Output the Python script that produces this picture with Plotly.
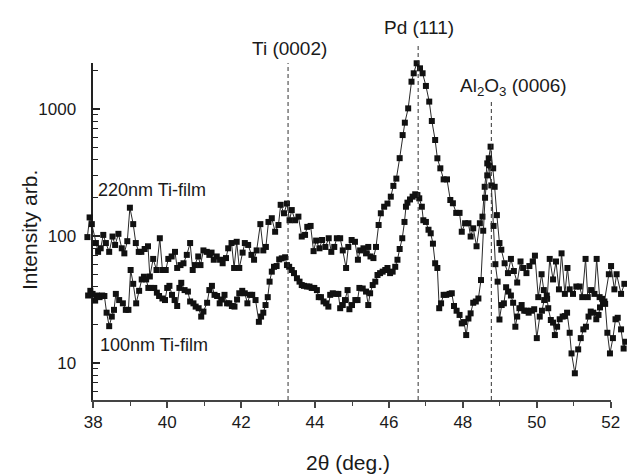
import plotly.graph_objects as go

# ---- data ----
x_220 = [37.84, 37.90, 37.96, 38.07, 38.13, 38.20, 38.27, 38.34, 38.43, 38.52,
         38.59, 38.68, 38.77, 38.84, 38.92, 38.99, 39.08, 39.15, 39.23, 39.30,
         39.39, 39.48, 39.53, 39.62, 39.71, 39.80, 39.87, 39.96, 40.03, 40.12,
         40.21, 40.27, 40.36, 40.44, 40.53, 40.62, 40.69, 40.75, 40.84, 40.90,
         40.98, 41.07, 41.14, 41.20, 41.26, 41.34, 41.43, 41.50, 41.59, 41.65,
         41.74, 41.81, 41.88, 41.95, 42.04, 42.10, 42.19, 42.28, 42.35, 42.42,
         42.52, 42.60, 42.67, 42.74, 42.83, 42.92, 43.01, 43.07, 43.16, 43.24,
         43.31, 43.37, 43.46, 43.55, 43.64, 43.73, 43.79, 43.88, 43.96, 44.03,
         44.12, 44.19, 44.28, 44.37, 44.44, 44.52, 44.59, 44.68, 44.75, 44.84,
         44.90, 44.99, 45.08, 45.16, 45.22, 45.31, 45.38, 45.44, 45.50, 45.58,
         45.65, 45.72, 45.78, 45.87, 45.96, 46.05, 46.12, 46.20, 46.29, 46.37,
         46.43, 46.52, 46.61, 46.67, 46.75, 46.84, 46.91, 47.00, 47.09, 47.16,
         47.25, 47.31, 47.39, 47.48, 47.57, 47.66, 47.73, 47.82, 47.91, 47.97,
         48.06, 48.15, 48.21, 48.28, 48.37, 48.46, 48.53, 48.59, 48.66, 48.70,
         48.75, 48.82, 48.86, 48.92, 48.99, 49.04, 49.13, 49.22, 49.30, 49.38,
         49.47, 49.56, 49.63, 49.72, 49.80, 49.89, 49.95, 50.04, 50.13, 50.19,
         50.28, 50.35, 50.44, 50.52, 50.60, 50.67, 50.76, 50.83, 50.89, 50.98,
         51.07, 51.16, 51.23, 51.32, 51.38, 51.47, 51.56, 51.62, 51.70, 51.77,
         51.83, 51.95, 52.01, 52.10, 52.16, 52.28, 52.37]
y_220 = [98, 140, 124, 88, 75, 80, 102, 88, 75, 99,
         85, 104, 80, 73, 91, 167, 124, 88, 75, 75,
         79, 83, 48, 66, 54, 96, 54, 54, 66, 69,
         75, 56, 59, 61, 71, 88, 54, 59, 69, 59,
         77, 75, 71, 74, 65, 69, 65, 61, 67, 80,
         88, 56, 90, 56, 74, 88, 85, 71, 65, 77,
         124, 77, 82, 129, 138, 108, 122, 176, 151, 180,
         133, 160, 133, 142, 99, 102, 118, 120, 76, 92,
         80, 93, 82, 96, 75, 82, 96, 96, 77, 56,
         82, 93, 90, 65, 77, 80, 73, 82, 69, 67,
         82, 122, 151, 170, 180, 204, 248, 283, 410, 623,
         780, 1011, 1640, 1910, 2290, 2090, 1910, 1518, 1143, 804,
         570, 409, 341, 279, 279, 192, 181, 152, 152, 108,
         126, 126, 99, 115, 83, 126, 142, 244, 373, 409,
         505, 341, 244, 146, 88, 78, 61, 51, 66, 53,
         43, 63, 56, 51, 58, 63, 70, 33, 50, 37.5,
         32, 66, 45.5, 63, 38, 73, 35, 56, 38, 35,
         40, 40, 33, 66, 33, 37.5, 35, 66, 33, 32,
         30.5, 50, 58, 38, 50, 35, 42]

x_100 = [37.86, 37.92, 37.98, 38.05, 38.10, 38.17, 38.24, 38.30, 38.36, 38.43,
         38.50, 38.56, 38.61, 38.70, 38.80, 38.88, 38.95, 39.01, 39.08, 39.16,
         39.24, 39.31, 39.37, 39.43, 39.49, 39.57, 39.65, 39.72, 39.78, 39.87,
         39.94, 40.00, 40.06, 40.13, 40.20, 40.27, 40.33, 40.38, 40.47, 40.56,
         40.62, 40.71, 40.77, 40.85, 40.92, 40.98, 41.08, 41.14, 41.21, 41.28,
         41.35, 41.42, 41.48, 41.55, 41.62, 41.68, 41.75, 41.82, 41.89, 41.95,
         42.03, 42.10, 42.17, 42.24, 42.30, 42.39, 42.48, 42.54, 42.60, 42.66,
         42.72, 42.77, 42.83, 42.89, 42.96, 43.03, 43.10, 43.19, 43.24, 43.30,
         43.37, 43.43, 43.51, 43.58, 43.64, 43.70, 43.78, 43.85, 43.91, 43.98,
         44.05, 44.10, 44.16, 44.23, 44.30, 44.36, 44.41, 44.48, 44.57, 44.63,
         44.68, 44.75, 44.81, 44.88, 44.93, 45.00, 45.09, 45.15, 45.20, 45.29,
         45.38, 45.44, 45.49, 45.56, 45.63, 45.69, 45.76, 45.83, 45.90, 45.96,
         46.03, 46.10, 46.17, 46.23, 46.29, 46.36, 46.42, 46.46, 46.50, 46.57,
         46.64, 46.71, 46.77, 46.82, 46.89, 46.93, 47.00, 47.07, 47.13, 47.19,
         47.25, 47.31, 47.36, 47.41, 47.48, 47.55, 47.64, 47.70, 47.76, 47.83,
         47.91, 47.97, 48.03, 48.09, 48.15, 48.21, 48.28, 48.35, 48.42, 48.49,
         48.55, 48.60, 48.66, 48.71, 48.77, 48.83, 48.88, 48.94, 48.99, 49.05,
         49.11, 49.17, 49.23, 49.30, 49.36, 49.42, 49.47, 49.53, 49.59, 49.66,
         49.72, 49.78, 49.85, 49.93, 50.00, 50.08, 50.14, 50.20, 50.27, 50.31,
         50.38, 50.44, 50.49, 50.55, 50.62, 50.70, 50.76, 50.82, 50.89, 50.94,
         51.03, 51.12, 51.19, 51.26, 51.33, 51.40, 51.46, 51.53, 51.61, 51.67,
         51.71, 51.79, 51.85, 51.91, 51.98, 52.06, 52.13, 52.19, 52.28, 52.35,
         52.40]
y_100 = [34, 37, 35, 31, 34, 33, 34, 33.7, 24.9, 19.5,
         23.2, 26.2, 35, 31.3, 29.5, 26.2, 26.2, 54, 42, 29.5,
         37, 45.5, 47.8, 45.5, 39, 39, 39, 35.8, 33.7, 32.2,
         31.3, 39, 40.5, 34.4, 31.3, 28.1, 39, 42.8, 37.5, 36.5,
         30.5, 29.5, 27.8, 27, 23.2, 25.4, 29.8, 37.5, 40.5, 34.4,
         33.7, 29.5, 31.6, 34.4, 29.5, 29.5, 28.1, 27.8, 31.6, 35.4,
         37, 35.4, 29.5, 34.4, 34.4, 31.3, 21.1, 23.2, 24.9, 28.6,
         33, 43.7, 52.4, 57.2, 58, 65.4, 66.7, 68, 59, 57.2,
         54, 51, 46.5, 43.7, 41.1, 40.5, 40, 40, 39, 39,
         37.5, 33, 33, 30.5, 29.5, 27.8, 34.4, 35.4, 35, 35,
         27, 28.6, 31.3, 37.5, 26.5, 28.6, 31.3, 31.3, 39, 38.6,
         36.5, 28.6, 35.4, 41.1, 43.7, 49.3, 51, 52.4, 54, 56,
         51, 52.4, 57.2, 65, 79, 96, 129, 170, 183, 194,
         204, 213, 210, 198, 170, 133, 129, 112, 105, 87,
         61, 56, 27, 29.5, 34.4, 34.4, 35, 35.4, 28.1, 25.8,
         23.9, 20.5, 21, 16.6, 22.4, 24.6, 29.8, 30.5, 32.2, 45,
         110, 200, 300, 360, 250, 120, 60, 43.7, 22, 28.6,
         29.5, 39.5, 36.5, 34, 29.8, 19.3, 23.2, 27, 28.6, 25.8,
         25.8, 24.9, 25.8, 26.5, 15.7, 23.2, 25.8, 31.3, 34, 27,
         21.8, 20.8, 16.6, 19.3, 22.1, 23.2, 23.4, 24.9, 17.3, 11.9,
         8.3, 12.8, 15.7, 18.4, 19.3, 23.2, 25.4, 24.9, 22.1, 23.9,
         27.4, 29.8, 29.2, 17.3, 11.9, 15.7, 22.1, 22.7, 18.4, 13,
         14.7]

x_ticks = [38, 40, 42, 44, 46, 48, 50, 52]
x_minor = [39, 41, 43, 45, 47, 49, 51]
y_ticks = [10, 100, 1000]
y_ticktext = ["10", "100", "1000"]
y_minor = [6, 7, 8, 9, 20, 30, 40, 50, 60, 70, 80, 90,
           200, 300, 400, 500, 600, 700, 800, 900, 2000]

peak_pos = [43.27, 46.79, 48.77]
peak_top = [0.8674, 0.907, 0.789]   # paper coords of the dashed line tops

assert len(x_220) == len(y_220) and len(x_100) == len(y_100)

W, H = 627, 475
FONT = "Liberation Sans, Arial, Helvetica, sans-serif"
INK = "#1a1a1a"
AX = "#444444"

x_dom = [93.3 / W, 610.7 / W]
y_dom = [75 / H, 412 / H]
y_rng = [0.7087, 3.362]
px_per_deg = (610.7 - 93.3) / 14.0
x2_rng = [38 - 93.3 / px_per_deg, 38 + (W - 93.3) / px_per_deg]

fig = go.Figure()
for xs, ys in [(x_220, y_220), (x_100, y_100)]:
    fig.add_trace(go.Scatter(
        x=xs, y=ys, mode="lines+markers", xaxis="x2", yaxis="y2",
        line=dict(color="#2a2a2a", width=1),
        marker=dict(symbol="square", size=6, color="#111111"),
        cliponaxis=False, showlegend=False, hoverinfo="skip"))

for xp, yt in zip(peak_pos, peak_top):
    fig.add_shape(type="line", xref="x", yref="paper", x0=xp, x1=xp,
                  y0=y_dom[0], y1=yt,
                  line=dict(color="#333333", width=1, dash="4px,3px"))

fig.update_layout(
    width=W, height=H, autosize=False,
    margin=dict(l=0, r=0, t=0, b=0),
    paper_bgcolor="white", plot_bgcolor="rgba(0,0,0,0)",
    font=dict(family=FONT, size=16, color=INK),
    showlegend=False,
    xaxis=dict(domain=x_dom, range=[38, 52], anchor="y",
               tickmode="array", tickvals=x_ticks, ticks="outside",
               ticklen=6, tickwidth=1.5, tickcolor=AX,
               showline=True, linecolor=AX, linewidth=1.5,
               showgrid=False, zeroline=False, automargin=False,
               tickfont=dict(size=17, family=FONT, color=INK),
               minor=dict(tickvals=x_minor, ticks="outside", ticklen=4,
                          tickwidth=1.2, tickcolor=AX, showgrid=False)),
    yaxis=dict(domain=y_dom, type="log", range=y_rng, anchor="x",
               tickmode="array", tickvals=y_ticks, ticktext=y_ticktext,
               ticks="inside", ticklen=7, tickwidth=1.5, tickcolor="#222",
               showline=True, linecolor="#222", linewidth=1.5,
               showgrid=False, zeroline=False, automargin=False,
               ticklabelstandoff=12,
               tickfont=dict(size=17, family=FONT, color=INK),
               minor=dict(tickvals=y_minor, ticks="inside", ticklen=5,
                          tickwidth=1.2, tickcolor="#222", showgrid=False)),
    xaxis2=dict(domain=[0, 1], range=x2_rng, anchor="y2", visible=False,
                showgrid=False, zeroline=False),
    yaxis2=dict(domain=y_dom, type="log", range=y_rng, anchor="x2",
                visible=False, showgrid=False, zeroline=False),
)

def ann(text, x, y, size=18, angle=0):
    fig.add_annotation(text=text, x=x, y=y, xref="paper", yref="paper",
                       xanchor="center", yanchor="middle", showarrow=False,
                       textangle=angle, font=dict(size=size, family=FONT, color=INK))

ann("Ti (0002)", 289 / W, 1 - 48 / H, size=19)
ann("Pd (111)", 419 / W, 1 - 27 / H, size=19)
ann("Al<sub>2</sub>O<sub>3</sub> (0006)", 513 / W, 1 - 87 / H, size=19)
ann("220nm Ti-film", 152 / W, 1 - 190 / H)
ann("100nm Ti-film", 154 / W, 1 - 345 / H)
ann("Intensity arb.", 30 / W, 1 - 230 / H, size=21, angle=-90)
ann("2θ (deg.)", 348 / W, 1 - 462 / H, size=21)

fig.write_html("out.html",
               config={"displayModeBar": False},
               post_script="document.body.style.margin='0';"
                           "document.body.style.padding='0';")
